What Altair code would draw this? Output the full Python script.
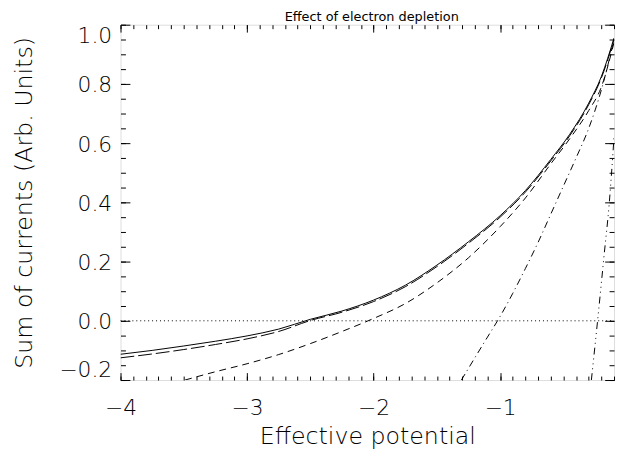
import altair as alt
import pandas as pd

# ---- data ----
x_solid = [-4.0, -3.75, -3.5, -3.25, -3.0, -2.75, -2.5, -2.25, -2.0, -1.75, -1.5, -1.25, -1.0, -0.8, -0.6, -0.45, -0.3, -0.2, -0.1]
y_solid = [-0.113, -0.100, -0.085, -0.069, -0.051, -0.028, 0.005, 0.033, 0.070, 0.120, 0.188, 0.267, 0.355, 0.440, 0.545, 0.630, 0.735, 0.825, 0.955]

x_long = [-4.0, -3.75, -3.5, -3.25, -3.0, -2.75, -2.5, -2.25, -2.0, -1.75, -1.5, -1.25, -1.0, -0.8, -0.6, -0.45, -0.3, -0.2, -0.1]
y_long = [-0.125, -0.112, -0.097, -0.080, -0.061, -0.036, 0.001, 0.029, 0.065, 0.115, 0.183, 0.262, 0.350, 0.435, 0.540, 0.625, 0.730, 0.820, 0.950]

x_short = [-3.49, -3.25, -3.0, -2.75, -2.5, -2.25, -2.0, -1.75, -1.5, -1.25, -1.0, -0.8, -0.6, -0.45, -0.3, -0.2, -0.1]
y_short = [-0.200, -0.172, -0.145, -0.114, -0.077, -0.036, 0.008, 0.058, 0.128, 0.213, 0.318, 0.415, 0.530, 0.615, 0.710, 0.790, 0.940]

x_dashdot = [-1.306, -1.2, -1.1, -1.0, -0.9, -0.8, -0.7, -0.6, -0.5, -0.4, -0.3, -0.2, -0.1]
y_dashdot = [-0.200, -0.125, -0.055, 0.015, 0.093, 0.177, 0.265, 0.360, 0.455, 0.550, 0.650, 0.780, 0.950]

x_dash3dot = [-0.279, -0.23, -0.18, -0.137, -0.1]
y_dash3dot = [-0.200, 0.000, 0.215, 0.401, 0.620]

zero_level = [0.0]

# ---- axis tick values ----
x_domain = [-4.0, -0.1]
y_domain = [-0.2, 1.0]
x_major = [-4, -3, -2, -1]
x_minor = [round(-4.0 + 0.1 * i, 2) for i in range(40)]
y_major = [-0.2, 0.0, 0.2, 0.4, 0.6, 0.8, 1.0]
y_minor = [round(-0.2 + 0.05 * i, 2) for i in range(25)]

W, H = 500, 360
FONT = "DejaVu Sans"
WEIGHT = 300

xs = alt.Scale(domain=x_domain, nice=False, zero=False)
ys = alt.Scale(domain=y_domain, nice=False, zero=False)


def tick_axis(orient, values, size, offset):
    return alt.Axis(orient=orient, values=values, tickSize=size, offset=offset,
                    labels=False, domain=False, grid=False, title=None,
                    tickColor="black", tickWidth=1)


x_label_axis = alt.Axis(orient="bottom", values=x_major, format="d", ticks=False, tickSize=0,
                        domain=False, grid=False, labelFlush=False,
                        labelFont=FONT, labelFontSize=22, labelFontWeight=WEIGHT, labelColor="black",
                        labelPadding=18, labelBaseline="top",
                        title="Effective potential", titleFont=FONT, titleFontSize=24,
                        titleFontWeight=WEIGHT, titleColor="black", titleBaseline="alphabetic",
                        titleY=64)
y_label_axis = alt.Axis(orient="left", values=y_major, format=".1f", ticks=False, tickSize=0,
                        domain=False, grid=False, labelFlush=True,
                        labelFont=FONT, labelFontSize=22, labelFontWeight=WEIGHT, labelColor="black",
                        labelPadding=9, labelOffset=1,
                        title="Sum of currents (Arb. Units)", titleFont=FONT, titleFontSize=24,
                        titleFontWeight=WEIGHT, titleColor="black", titleBaseline="alphabetic",
                        titleX=-90, titleY=180)
title_axis = alt.Axis(orient="top", labels=False, ticks=False, domain=False, grid=False,
                      title="Effect of electron depletion", titleFont=FONT, titleFontSize=13,
                      titleFontWeight="normal", titleColor="black", titleBaseline="alphabetic",
                      titleY=-4, titleX=W / 2 + 4, titleAlign="center")

specs = [
    (x_solid, y_solid, [], x_label_axis, y_label_axis),
    (x_long, y_long, [14, 4], tick_axis("top", x_major, 7.5, -H), tick_axis("right", y_major, 9.5, -W)),
    (x_short, y_short, [7, 5], tick_axis("top", x_minor, 4, -H), tick_axis("right", y_minor, 5, -W)),
    (x_dashdot, y_dashdot, [7, 4, 1, 4], tick_axis("bottom", x_major, 7.5, -H), tick_axis("left", y_major, 9.5, -W)),
    (x_dash3dot, y_dash3dot, [7, 4, 1, 4, 1, 4, 1, 4], tick_axis("bottom", x_minor, 4, -H), tick_axis("left", y_minor, 5, -W)),
]

layers = []
for xv, yv, dash, xax, yax in specs:
    df = pd.DataFrame({"x": xv, "y": yv})
    mark_kwargs = dict(color="black", strokeWidth=1, clip=True, interpolate="monotone")
    if dash:
        mark_kwargs["strokeDash"] = dash
    layers.append(
        alt.Chart(df).mark_line(**mark_kwargs).encode(
            x=alt.X("x:Q", scale=xs, axis=xax),
            y=alt.Y("y:Q", scale=ys, axis=yax),
        )
    )

# dotted zero level across the whole x range; it also carries the title axis
zero_df = pd.DataFrame({"x": [x_domain[0]], "x2": [x_domain[1]], "y": zero_level})
layers.append(
    alt.Chart(zero_df).mark_rule(color="black", strokeWidth=1, strokeDash=[1, 3]).encode(
        x=alt.X("x:Q", scale=xs, axis=title_axis),
        x2="x2:Q",
        y=alt.Y("y:Q", scale=ys, axis=None),
    )
)

chart = (
    alt.layer(*layers)
    .resolve_axis(x="independent", y="independent")
    .properties(
        width=W, height=H,
        autosize=alt.AutoSizeParams(type="none"),
        padding={"left": 114, "top": 14, "right": 2, "bottom": 70},
    )
    .configure_view(stroke="black", strokeWidth=1)
    .configure(background="white")
)

chart.save("out.html", embed_options={"renderer": "svg", "actions": False})
